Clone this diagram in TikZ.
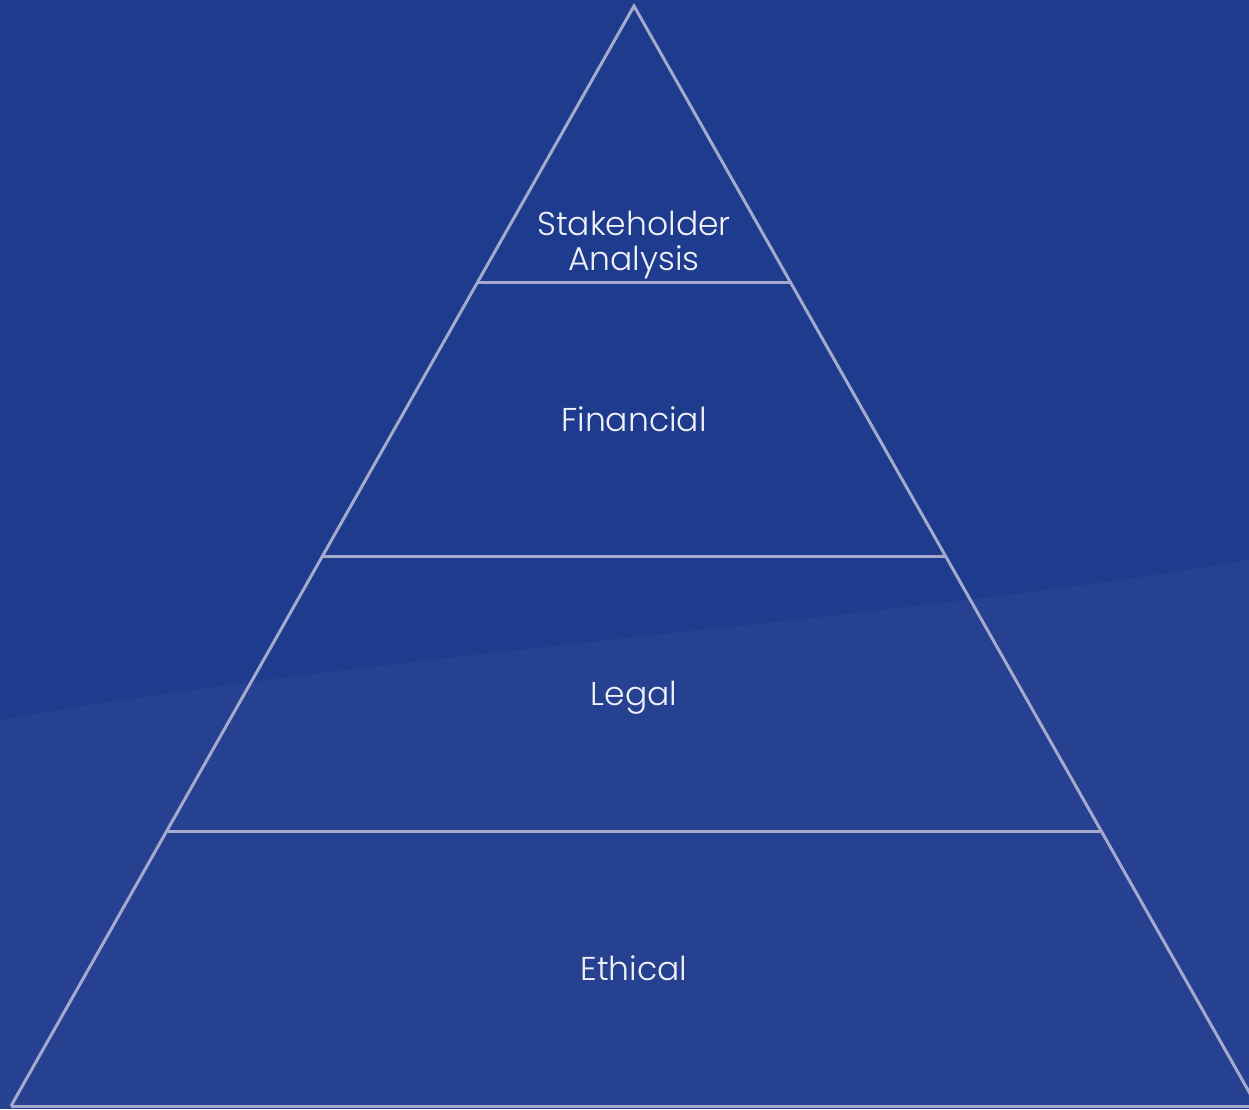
\documentclass[tikz,border=0pt]{standalone}
\usepackage{fontspec}
\setmainfont{Poppins Light}
\definecolor{bg}{RGB}{31,59,141}
\definecolor{edge}{RGB}{166,169,206}
\definecolor{txt}{RGB}{240,241,248}
\begin{document}
\begin{tikzpicture}[x=1pt,y=-1pt,
  tier/.style={draw=edge,line width=3pt},
  label/.style={text=txt,font=\fontsize{33}{35}\selectfont,align=center,anchor=base,inner sep=0pt}]
\useasboundingbox (0,0) rectangle (1249,1109);
\fill[bg] (0,0) rectangle (1249,1109);
\fill[white,opacity=0.03] (0,720) .. controls (400,650) and (900,620) .. (1249,560) -- (1249,1109) -- (0,1109) -- cycle;
\coordinate (apex) at (634,6);
\coordinate (bl) at (11,1106);
\coordinate (br) at (1257,1106);
\coordinate (l1) at (478,282);
\coordinate (r1) at (790,282);
\coordinate (l2) at (323,556);
\coordinate (r2) at (945,556);
\coordinate (l3) at (168,831);
\coordinate (r3) at (1100,831);
\begin{scope}
\clip (0,0) rectangle (1249,1109);
\draw[tier,line join=miter] (bl) -- (apex) -- (br);
\draw[tier] (bl) -- (br);
\end{scope}
\draw[tier] (l1) -- (r1);
\draw[tier] (l2) -- (r2);
\draw[tier] (l3) -- (r3);
\node[label] (stake) at (634,270) {Stakeholder\\Analysis};
\node[label] (fin) at (634,431) {Financial};
\node[label] (legal) at (634,705) {Legal};
\node[label] (eth) at (634,980) {Ethical};
\end{tikzpicture}
\end{document}
